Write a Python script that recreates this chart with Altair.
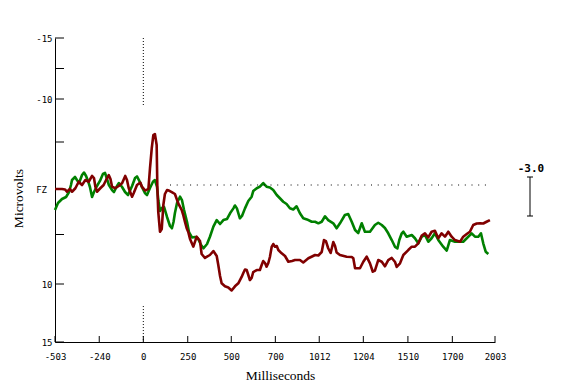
import json
import altair as alt
import pandas as pd

# ---- data ----
green_t = [-503,-486,-463,-440,-423,-412,-406,-389,-378,-366,
           -349,-338,-326,-315,-304,-292,-281,-264,-247,-230,
           -218,-207,-196,-178,-167,-150,-139,-121,-104,-87,
           -82,-64,-47,-36,-25,-8,9,21,38,55,
           66,78,86,95,106,118,135,152,163,172,
           180,192,209,220,232,249,260,277,294,311,
           329,343,363,380,399,418,437,456,477,494,
           513,522,533,550,562,579,598,617,626,646,
           664,683,702,721,740,760,778,797,816,835,
           854,873,892,911,932,959,978,997,1016,1035,
           1053,1082,1101,1120,1148,1167,1187,1206,1224,1244,
           1262,1291,1319,1338,1358,1376,1395,1415,1434,1447,
           1458,1472,1481,1500,1529,1547,1566,1586,1604,1623,
           1642,1661,1680,1708,1728,1746,1775,1804,1822,1842,
           1870,1889,1908,1923,1936,1950,1965]
green_v = [2.53,1.82,1.41,1.21,0.71,0,-0.58,-0.93,-0.58,-0.23,
           -1.16,-1.45,-1.05,-0.47,0.20,1.21,0.71,0.10,-0.47,-1.28,
           -1.40,-0.70,0,0.51,0.71,0.10,-0.23,0.20,0.71,1.01,
           0.81,0.10,-0.81,-0.99,-0.58,0.20,0.81,1.01,0.30,-0.38,
           -0.58,0.20,1.62,2.63,2.32,2.22,3.23,4.14,4.37,3.74,
           2.83,1.82,1.18,1.52,2.53,3.74,4.75,5.30,5.25,5.40,
           6.06,6.39,5.96,5.20,4.21,3.54,3.94,3.54,3.43,2.86,
           2.36,2.07,2.36,3.36,3.13,2.36,1.62,1.18,0.61,0.33,
           0.17,-0.23,0.17,0.25,0.51,1.01,1.34,1.69,1.92,2.35,
           2.47,2.15,2.86,3.36,3.48,3.71,3.71,3.87,3.71,3.16,
           3.54,3.87,4.37,3.87,3.03,2.93,3.71,4.55,4.85,3.87,
           4.72,4.72,4.04,3.81,4.04,4.34,4.88,5.56,6.26,6.41,
           5.56,4.88,4.72,5.22,5.05,5.38,5.89,5.22,5.05,5.73,
           5.38,4.88,5.56,6.23,6.62,5.56,5.73,5.73,5.73,5.38,
           4.88,5.22,5.22,4.88,5.89,6.74,6.97]

red_t = [-503,-486,-463,-446,-435,-418,-406,-387,-368,-349,
         -330,-311,-292,-281,-273,-264,-245,-226,-207,-197,
         -187,-178,-160,-140,-121,-103,-93,-83,-64,-55,
         -36,-17,-8,11,29,38,48,57,66,76,
         80,85,95,105,114,123,135,146,162,180,
         199,219,228,237,247,256,266,285,304,323,
         332,351,379,399,418,427,437,446,465,484,
         503,522,541,560,569,579,589,598,607,617,
         626,646,664,674,683,693,702,712,721,731,
         740,750,760,769,788,807,826,847,864,892,
         911,940,961,978,997,1016,1029,1040,1053,1067,
         1082,1092,1101,1120,1158,1187,1196,1206,1234,1253,
         1272,1291,1307,1319,1338,1358,1376,1395,1415,1434,
         1443,1462,1481,1509,1529,1547,1566,1586,1604,1623,
         1642,1661,1680,1699,1718,1737,1756,1775,1804,1822,
         1842,1860,1879,1899,1918,1936,1955,1974]
red_v = [0.40,0.40,0.40,0.45,0.68,0.40,0.68,0.33,-0.38,0,
         -0.58,-0.38,-1.05,-0.81,0.17,0.68,0.33,0,-0.78,-1.16,
         -0.70,0.17,0.33,0.10,-0.20,-1.05,-0.58,0.33,1.18,0.84,
         0,-0.29,0.17,0.56,0.40,-1.94,-4.27,-5.81,-5.93,-4.65,
         0.30,2.70,4.72,4.44,2.02,0.91,0.51,0.56,0.71,0.91,
         1.85,2.53,3.08,3.71,4.37,4.75,5.45,6.23,5.22,5.66,
         6.97,7.37,7.07,6.67,7.17,8.08,9.19,9.93,10.2,10.3,
         10.56,10.2,9.93,9.29,8.92,8.54,8.59,9.09,9.60,9.39,
         8.79,8.59,8.59,8.08,7.68,7.88,8.25,7.88,7.27,6.26,
         5.96,6.23,6.16,6.57,6.90,7.17,7.75,7.68,7.58,7.58,
         7.83,7.40,7.22,7.07,7.12,6.77,5.56,5.66,6.39,6.87,
         5.76,6.16,6.82,7.07,7.24,7.27,7.40,8.41,8.41,7.75,
         7.24,7.91,8.76,8.64,7.58,7.75,8.21,7.58,7.37,7.78,
         8.28,7.91,7.07,6.57,6.23,6.23,5.89,5.10,4.88,5.30,
         4.72,4.62,5.38,4.88,5.22,4.72,5.22,5.56,5.73,5.22,
         4.95,4.72,4.04,3.89,3.87,3.89,3.71,3.54]

x_tick_values = [-503, -251, 0, 253, 501, 752, 1002, 1253, 1507, 1760, 2003]
x_tick_labels = ["-503", "-240", "0", "250", "500", "700", "1012", "1204", "1510", "1700", "2003"]
y_label_values = [-15, -10, 10, 15]
y_tick_values = [-15, -12.5, -10, -5, 5, 10, 15]
channel_label = "FZ"
scale_bar_label = "-3.0"

# ---- layout / style ----
W, H = 440, 304
MONO = "DejaVu Sans Mono"
SERIF = "Liberation Serif"

df = pd.concat([
    pd.DataFrame({"t": green_t, "v": green_v, "series": "green"}),
    pd.DataFrame({"t": red_t, "v": red_v, "series": "red"}),
], ignore_index=True)

xscale = alt.Scale(domain=[-503, 2003], nice=False, zero=False)
yscale = alt.Scale(domain=[-15, -10, 0, 10, 15], range=[0, 61, 147, 246, 304],
                   nice=False, zero=False)

label_expr = f"{json.dumps(x_tick_labels)}[indexof({json.dumps(x_tick_values)}, datum.value)]"

xaxis = alt.Axis(values=x_tick_values, labelExpr=label_expr, ticks=False, tickSize=0,
                 labelPadding=10, labelFont=MONO, labelFontSize=9, labelColor="black",
                 labelFlush=False, labelOverlap=False, domainColor="black", domainWidth=1,
                 grid=False, title="Milliseconds", titleFont=SERIF, titleFontSize=13.5,
                 titleFontWeight="normal", titleColor="black", titleX=225, titleY=37,
                 titleBaseline="alphabetic", titleAlign="center")
yaxis = alt.Axis(values=y_label_values, labelExpr="toString(datum.value)", ticks=False,
                 tickSize=0, labelPadding=3, labelFont=MONO, labelFontSize=9,
                 labelColor="black", labelFlush=False, labelOverlap=False,
                 domainColor="black", domainWidth=1, grid=False, title="Microvolts",
                 titleFont=SERIF, titleFontSize=13.5, titleFontWeight="normal",
                 titleColor="black", titleAngle=270, titleX=-37, titleY=160,
                 titleBaseline="middle", titleAlign="center")

lines = alt.Chart(df).mark_line(strokeWidth=2.6, strokeJoin="round").encode(
    x=alt.X("t:Q", scale=xscale, axis=xaxis),
    y=alt.Y("v:Q", scale=yscale, axis=yaxis),
    color=alt.Color("series:N", scale=alt.Scale(domain=["green", "red"],
                                                range=["#008000", "#800000"]), legend=None),
)

xticks = alt.Chart(pd.DataFrame({"t": x_tick_values})).mark_rule(color="black", strokeWidth=1).encode(
    x="t:Q", y=alt.value(H), y2=alt.value(H - 6))
yticks = alt.Chart(pd.DataFrame({"v": y_tick_values})).mark_rule(color="black", strokeWidth=1).encode(
    y="v:Q", x=alt.value(0), x2=alt.value(9))

one = pd.DataFrame({"a": [0]})
dot_v1 = alt.Chart(one).mark_rule(color="black", strokeWidth=1, strokeDash=[1, 2]).encode(
    x=alt.datum(0), y=alt.datum(-15), y2=alt.datum(-9.2))
dot_v2 = alt.Chart(one).mark_rule(color="black", strokeWidth=1, strokeDash=[1, 2]).encode(
    x=alt.datum(0), y=alt.datum(11.9), y2=alt.datum(15))
dot_h = alt.Chart(one).mark_rule(color="black", strokeWidth=1, strokeDash=[1, 5.7]).encode(
    x=alt.datum(152), x2=alt.datum(1974), y=alt.datum(0))

fz = alt.Chart(one).mark_text(text=channel_label, align="right", baseline="middle",
                              font=MONO, fontSize=9, color="black").encode(
    x=alt.value(-8), y=alt.value(151.5))
bar_text = alt.Chart(one).mark_text(text=scale_bar_label, align="center", baseline="middle",
                                    font=MONO, fontSize=11, fontWeight="bold", color="black").encode(
    x=alt.value(476), y=alt.value(131))
bar_v = alt.Chart(one).mark_rule(color="black", strokeWidth=1).encode(
    x=alt.value(475), y=alt.value(139), y2=alt.value(178))
bar_c1 = alt.Chart(one).mark_rule(color="black", strokeWidth=1).encode(
    x=alt.value(472), x2=alt.value(478), y=alt.value(139))
bar_c2 = alt.Chart(one).mark_rule(color="black", strokeWidth=1).encode(
    x=alt.value(472), x2=alt.value(478), y=alt.value(178))

chart = alt.layer(lines, xticks, yticks, dot_v1, dot_v2, dot_h, fz, bar_text,
                  bar_v, bar_c1, bar_c2).properties(
    width=W, height=H,
    autosize=alt.AutoSizeParams(type="none"),
    padding={"left": 47, "top": 30, "right": 58, "bottom": 45},
    background="white",
).configure_view(stroke=None)

chart.save("out.html", embed_options={"renderer": "svg", "actions": False})
